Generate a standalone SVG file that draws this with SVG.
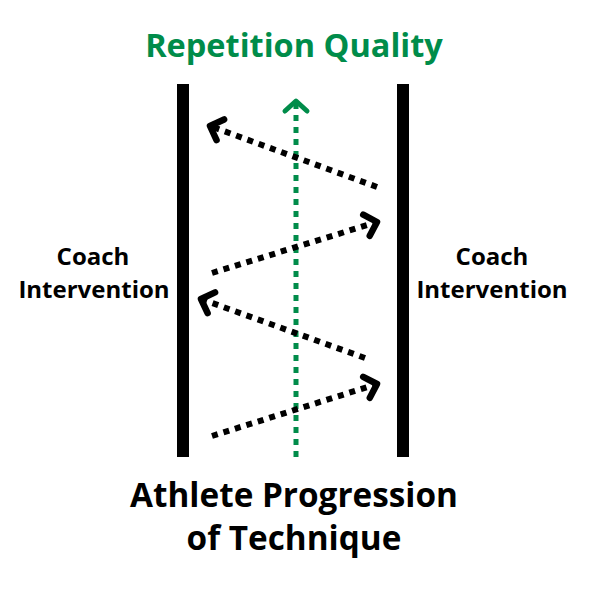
<svg xmlns="http://www.w3.org/2000/svg" width="591" height="591" viewBox="0 0 591 591">
<style>
.t{font-family:"Open Sans","Liberation Sans",sans-serif;font-weight:bold;text-anchor:middle}
.side{font-size:24px;fill:#000}
.blk{stroke:#000;stroke-width:6;stroke-dasharray:6 6;fill:none}
.grn{stroke:#008c4a;stroke-width:5;stroke-dasharray:6 6;fill:none}
</style>
<defs>
<marker id="ab" markerUnits="userSpaceOnUse" markerWidth="32" markerHeight="32" viewBox="-17 -16 32 32" refX="0" refY="0" orient="auto">
<path d="M-11,-11 L0,0 L-11,11" fill="none" stroke="#000" stroke-width="6.5" stroke-linecap="round" stroke-linejoin="round"/>
</marker>
<marker id="ag" markerUnits="userSpaceOnUse" markerWidth="30" markerHeight="30" viewBox="-16 -15 30 30" refX="0" refY="0" orient="auto">
<path d="M-10,-11 L0,0 L-10,11" fill="none" stroke="#008c4a" stroke-width="5" stroke-linecap="round" stroke-linejoin="round"/>
</marker>
</defs>
<rect width="591" height="591" fill="#fff"/>
<g id="left-bar"><rect x="177" y="84" width="12" height="373" fill="#000"/></g>
<g id="right-bar"><rect x="397" y="84" width="12" height="373" fill="#000"/></g>
<g id="title"><text class="t" x="294" y="57" font-size="32.5" fill="#008c4a">Repetition Quality</text></g>
<g id="coach-left"><text class="t side" x="93" y="265">Coach</text><text class="t side" x="94" y="298">Intervention</text></g>
<g id="coach-right"><text class="t side" x="492" y="265">Coach</text><text class="t side" x="492" y="298">Intervention</text></g>
<g id="bottom"><text class="t" x="294" y="507" font-size="33.3" fill="#000">Athlete Progression</text><text class="t" x="294" y="550" font-size="33.3" fill="#000">of Technique</text></g>
<g id="connectors">
<line class="grn" x1="296" y1="457" x2="296" y2="101" marker-end="url(#ag)"/>
<line class="blk" x1="377" y1="187" x2="210" y2="126" marker-end="url(#ab)"/>
<line class="blk" x1="212" y1="273" x2="377" y2="222" marker-end="url(#ab)"/>
<line class="blk" x1="365" y1="358" x2="201" y2="299" marker-end="url(#ab)"/>
<line class="blk" x1="212" y1="436" x2="377" y2="384" marker-end="url(#ab)"/>
</g>
</svg>
